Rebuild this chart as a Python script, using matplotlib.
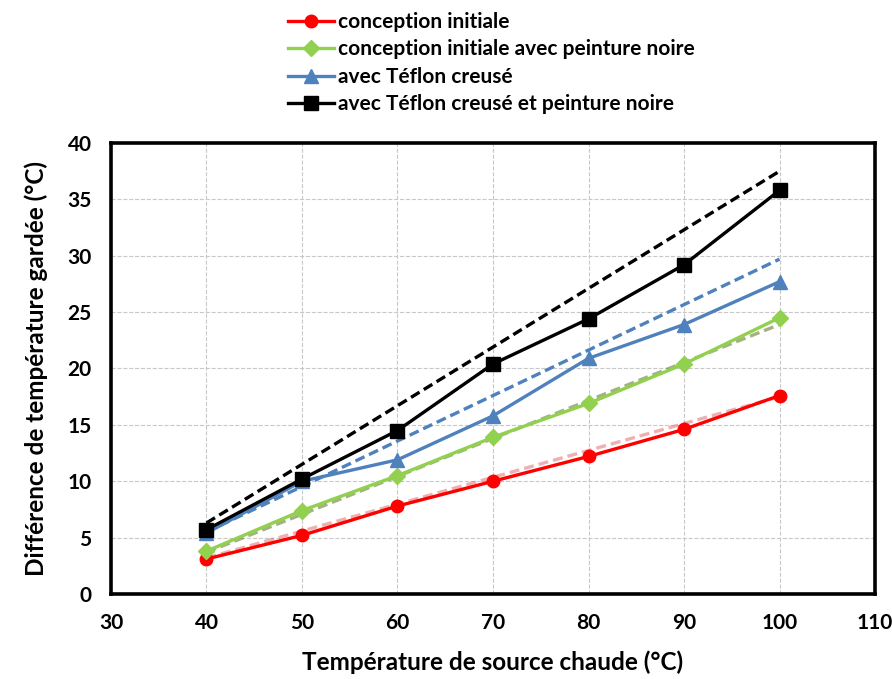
import matplotlib.pyplot as plt

plt.rcParams['font.family'] = ['Lato', 'DejaVu Sans']
plt.rcParams['font.weight'] = 'bold'

# Données
temperature = [40, 50, 60, 70, 80, 90, 100]
conception_initiale = [3.1, 5.2, 7.8, 10.0, 12.2, 14.6, 17.6]
initiale_peinture = [3.8, 7.4, 10.5, 13.9, 16.9, 20.4, 24.5]
teflon = [5.4, 10.0, 11.9, 15.8, 20.9, 23.9, 27.7]
teflon_peinture = [5.7, 10.2, 14.5, 20.4, 24.4, 29.2, 35.8]

# Droites de tendance (pointillés), extrémités lues
trend_x = [40, 100]
trend_rouge = [3.2, 17.5]
trend_vert = [3.7, 23.9]
trend_bleu = [5.5, 29.7]
trend_noir = [6.3, 37.5]

fig = plt.figure(figsize=(8.92, 6.79), dpi=100)
ax = fig.add_axes([0.1244, 0.1252, 0.8566, 0.6642])

# tendances
ax.plot(trend_x, trend_rouge, ls=(0, (3, 1.5)), color='#e07070', lw=2.4, alpha=0.55)
ax.plot(trend_x, trend_vert, ls=(0, (3, 1.5)), color='#7f8f4f', lw=2.4, alpha=0.7)
ax.plot(trend_x, trend_bleu, ls=(0, (3, 1.5)), color='#4f81bd', lw=2.4)
ax.plot(trend_x, trend_noir, ls=(0, (3, 1.5)), color='black', lw=2.4)

# séries
ax.plot(temperature, conception_initiale, '-o', color='#ff0000', lw=2.4, ms=9,
        label='conception initiale')
ax.plot(temperature, initiale_peinture, '-D', color='#92d050', lw=2.4, ms=8.5,
        label='conception initiale avec peinture noire')
ax.plot(temperature, teflon, '-^', color='#4f81bd', lw=2.4, ms=10,
        label='avec Téflon creusé')
ax.plot(temperature, teflon_peinture, '-s', color='black', lw=2.4, ms=9.5,
        label='avec Téflon creusé et peinture noire')

ax.set_xlim(30, 110)
ax.set_ylim(0, 40)
ax.set_xticks(range(30, 111, 10))
ax.set_yticks(range(0, 41, 5))
ax.grid(True, ls='--', color='#c8c8c8', lw=0.8)
ax.tick_params(length=0, labelsize=15)
ax.tick_params(axis='y', pad=14)
ax.tick_params(axis='x', pad=14)
for s in ax.spines.values():
    s.set_linewidth(2.6)
    s.set_color('black')

ax.set_xlabel('Température de source chaude (°C)', fontsize=17.5, fontweight='bold', labelpad=12)
ax.set_ylabel('Différence de température gardée (°C)', fontsize=17.5, fontweight='bold', labelpad=14)

fig.legend(loc='upper left', bbox_to_anchor=(0.302, 1.01), frameon=False,
           handlelength=2.2, handletextpad=0.2, labelspacing=0.36,
           prop={'weight': 'bold', 'size': 15})

fig.savefig('out.png', dpi=100)
